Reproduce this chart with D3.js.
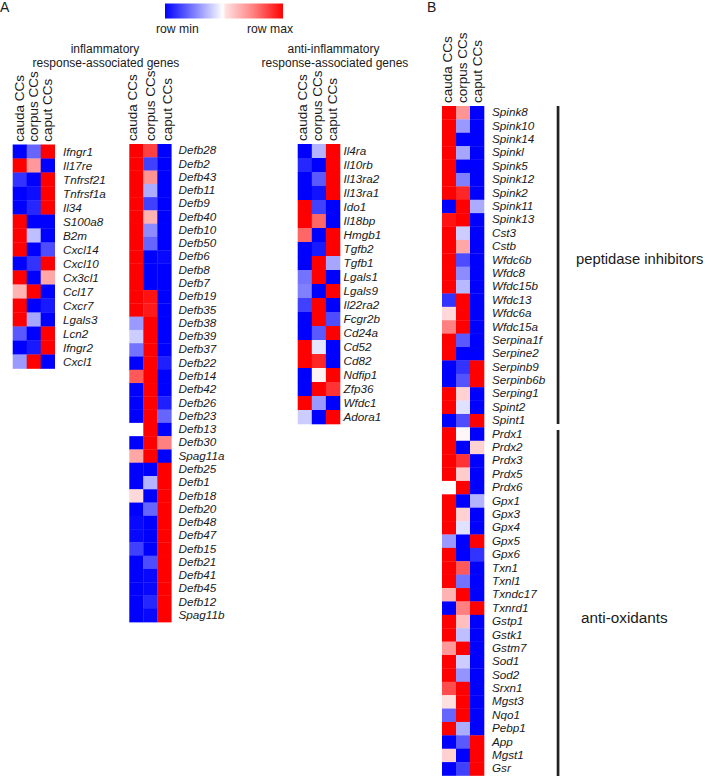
<!DOCTYPE html>
<html>
<head>
<meta charset="utf-8">
<script src="https://cdn.jsdelivr.net/npm/d3@7"></script>
<style>
  html, body { margin: 0; padding: 0; background: #fff; }
  text { font-family: "Liberation Sans", Arial, sans-serif; fill: #1a1a1a; }
</style>
</head>
<body>
<svg width="708" height="780"></svg>
<script>
// row-scaled expression: -1 = row min, 1 = row max
var tissues = ["cauda CCs", "corpus CCs", "caput CCs"];

var genes1 = ["Ifngr1","Il17re","Tnfrsf21","Tnfrsf1a","Il34","S100a8","B2m","Cxcl14","Cxcl10","Cx3cl1","Ccl17","Cxcr7","Lgals3","Lcn2","Ifngr2","Cxcl1"];
var vals1 = [
  [-1,-.6,1],[1,.4,-1],[-.8,-1,1],[-1,-.95,1],[-1,-.85,1],[1,-1,-1],[1,-.25,-1],[1,-1,-.7],
  [-1,-.8,1],[1,-1,.35],[.3,1,-1],[1,-1,-.9],[1,-.35,-1],[-.65,-1,1],[-1,-.9,1],[-.4,1,-1]
];

var genes2 = ["Defb28","Defb2","Defb43","Defb11","Defb9","Defb40","Defb10","Defb50","Defb6","Defb8","Defb7","Defb19","Defb35","Defb38","Defb39","Defb37","Defb22","Defb14","Defb42","Defb26","Defb23","Defb13","Defb30","Spag11a","Defb25","Defb1","Defb18","Defb20","Defb48","Defb47","Defb15","Defb21","Defb41","Defb45","Defb12","Spag11b"];
var vals2 = [
  [1,.75,-1],[1,-.75,-1],[1,.42,-1],[1,-.32,-1],[1,-.75,-1],[1,.3,-1],[1,-.45,-1],[1,-.6,-1],
  [1,-1,-.97],[1,-1,-1],[1,-1,-1],[1,.93,-1],[1,.9,-1],[-.4,1,-1],[-.2,1,-1],[-.55,1,-1],
  [-1,1,-.88],[.65,1,-1],[-1,1,-1],[-1,1,-.88],[-1,1,-.6],[0,1,-1],[-1,1,.5],[.35,1,-1],
  [-1,-1,1],[-1,-.3,1],[.15,-1,1],[-1,-.6,1],[-.97,-1,1],[-.97,-1,1],[-.75,-1,1],[-1,-.7,1],
  [-1,-.97,1],[-1,-.97,1],[-1,-.85,1],[-1,-.97,1]
];

var genes3 = ["Il4ra","Il10rb","Il13ra2","Il13ra1","Ido1","Il18bp","Hmgb1","Tgfb2","Tgfb1","Lgals1","Lgals9","Il22ra2","Fcgr2b","Cd24a","Cd52","Cd82","Ndfip1","Zfp36","Wfdc1","Adora1"];
var vals3 = [
  [-1,-.3,1],[-.85,-1,1],[-1,-.65,1],[-1,-.93,1],[1,-.75,-1],[1,.6,-1],[.6,-1,1],[-1,-.9,1],
  [-1,1,-.35],[-.55,1,-1],[-.5,-1,1],[-.75,1,-1],[-1,1,-.7],[-1,-.65,1],[1,-.1,-1],[1,.85,-1],
  [-1,.05,1],[-1,1,.8],[1,-.4,-1],[-.2,-1,1]
];

var genesB = ["Spink8","Spink10","Spink14","Spinkl","Spink5","Spink12","Spink2","Spink11","Spink13","Cst3","Cstb","Wfdc6b","Wfdc8","Wfdc15b","Wfdc13","Wfdc6a","Wfdc15a","Serpina1f","Serpine2","Serpinb9","Serpinb6b","Serping1","Spint2","Spint1","Prdx1","Prdx2","Prdx3","Prdx5","Prdx6","Gpx1","Gpx3","Gpx4","Gpx5","Gpx6","Txn1","Txnl1","Txndc17","Txnrd1","Gstp1","Gstk1","Gstm7","Sod1","Sod2","Srxn1","Mgst3","Nqo1","Pebp1","App","Mgst1","Gsr"];
var valsB = [
  [1,.42,-1],[1,-.4,-1],[1,-1,-1],[1,-.35,-1],[1,-1,-1],[1,-.5,-1],[1,.85,-1],[-1,1,-.33],
  [.93,1,-1],[1,-.2,-1],[1,.35,-1],[1,-.7,-1],[1,-.45,-1],[1,-.28,-1],[-.8,1,-1],[.15,1,-1],
  [.5,1,-1],[1,-.65,-1],[1,-1,-1],[-1,-.8,1],[-1,-.68,1],[1,.18,-1],[1,-.12,-1],[-1,-.7,1],
  [1,.03,-1],[1,-1,.18],[1,.8,-1],[1,.2,-1],[0,1,-1],[1,-1,-.3],[1,.18,-1],[1,-.12,-1],
  [-.4,-1,1],[1,-1,-.8],[1,.65,-1],[1,-.55,-1],[.3,1,-1],[-1,.5,1],[1,.25,-1],[1,-.25,-1],
  [.4,1,-1],[1,-.2,-1],[1,-.42,-1],[.7,1,-1],[.12,1,-1],[-.6,1,-1],[1,-.33,-1],[-1,-.65,1],
  [.18,-1,1],[-1,-.75,1]
];

var svg = d3.select("svg");

var color = d3.scaleLinear()
  .domain([-1, 0, 1])
  .range(["#0000ff", "#ffffff", "#ff0000"]);

function heatmap(genes, vals, x0, y0, colW, rowH, labelX, labelDy, headX, headY) {
  var g = svg.append("g");
  var x = d3.scaleBand().domain(tissues).range([x0, x0 + colW * 3]);
  var y = d3.scaleBand().domain(genes).range([y0, y0 + rowH * genes.length]);

  genes.forEach(function (gene, i) {
    g.selectAll(".c" + i)
      .data(vals[i])
      .enter()
      .append("rect")
      .attr("x", function (d, j) { return x(tissues[j]); })
      .attr("y", y(gene))
      .attr("width", x.bandwidth() + 0.3)
      .attr("height", y.bandwidth() + 0.3)
      .attr("fill", function (d) { return color(d); });
  });

  // gene names
  g.selectAll(".gene")
    .data(genes)
    .enter()
    .append("text")
    .attr("x", labelX)
    .attr("y", function (d) { return y(d) + y.bandwidth() / 2 + labelDy; })
    .attr("font-size", "11.7px")
    .attr("font-style", "italic")
    .text(function (d) { return d; });

  // column headers, rotated; they do not sit exactly over their columns in the figure
  g.selectAll(".tissue")
    .data(tissues)
    .enter()
    .append("text")
    .attr("transform", function (d, i) {
      return "translate(" + headX[i] + "," + headY + ") rotate(-90)";
    })
    .attr("font-size", "13.5px")
    .text(function (d) { return d; });
}

heatmap(genes1, vals1, 12.7, 144.5, 14, 14, 63, 4.3, [24, 37.5, 51.5], 141.7);
heatmap(genes2, vals2, 129.3, 144, 14, 13.28, 178.5, 3.6, [137, 155, 171.5], 141);
heatmap(genes3, vals3, 297.7, 144, 14.1, 14, 343.5, 3.6, [307, 322, 336.5], 141);
heatmap(genesB, valsB, 442, 106, 14, 13.39, 492, 3.6, [451.5, 467, 482], 103);

// legend, with the small jump to pink just past the middle
var legendStops = [-1, -0.5, -0.02, 0.03, 0.5, 1];
var legendColors = ["#0000ff", "#8080ff", "#ffffff", "#ffe0e0", "#ff8080", "#ff0000"];
var grad = svg.append("defs").append("linearGradient").attr("id", "legendGrad");
grad.selectAll("stop")
  .data(legendStops)
  .enter()
  .append("stop")
  .attr("offset", function (d) { return ((d + 1) / 2 * 100) + "%"; })
  .attr("stop-color", function (d, i) { return legendColors[i]; });

var legendX = d3.scaleLinear().domain([-1, 1]).range([165, 283]);
svg.append("rect")
  .attr("x", legendX(-1))
  .attr("y", 3.5)
  .attr("width", legendX(1) - legendX(-1))
  .attr("height", 15)
  .attr("fill", "url(#legendGrad)");

svg.append("text").attr("x", 156).attr("y", 33).attr("font-size", "12.2px").text("row min");
svg.append("text").attr("x", 247).attr("y", 33).attr("font-size", "12.2px").text("row max");

// panel letters and group titles
svg.append("text").attr("x", 0).attr("y", 12).attr("font-size", "14px").text("A");
svg.append("text").attr("x", 427).attr("y", 12).attr("font-size", "14px").text("B");

svg.append("text").attr("x", 105).attr("y", 52.5).attr("text-anchor", "middle").attr("font-size", "12px").text("inflammatory");
svg.append("text").attr("x", 106).attr("y", 66.5).attr("text-anchor", "middle").attr("font-size", "12px").text("response-associated genes");
svg.append("text").attr("x", 333.5).attr("y", 52.5).attr("text-anchor", "middle").attr("font-size", "12px").text("anti-inflammatory");
svg.append("text").attr("x", 335).attr("y", 66.5).attr("text-anchor", "middle").attr("font-size", "12px").text("response-associated genes");

// brackets for panel B
svg.append("rect").attr("x", 556.7).attr("y", 106).attr("width", 2.7).attr("height", 318).attr("fill", "#222");
svg.append("rect").attr("x", 556.7).attr("y", 430).attr("width", 2.7).attr("height", 346).attr("fill", "#222");
svg.append("text").attr("x", 576).attr("y", 264).attr("font-size", "14.8px").text("peptidase inhibitors");
svg.append("text").attr("x", 581).attr("y", 623).attr("font-size", "15.3px").text("anti-oxidants");
</script>
</body>
</html>
